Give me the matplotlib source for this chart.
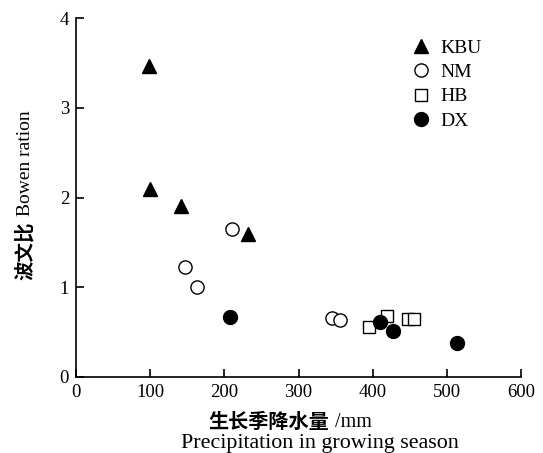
import matplotlib
matplotlib.use("Agg")
import matplotlib.pyplot as plt

# Data
kbu_x = [98, 100, 141, 232]
kbu_y = [3.47, 2.10, 1.90, 1.59]

nm_x = [210, 147, 163, 345, 356]
nm_y = [1.65, 1.22, 1.00, 0.66, 0.63]

hb_x = [395, 419, 448, 456]
hb_y = [0.56, 0.68, 0.65, 0.65]

dx_x = [208, 410, 427, 514]
dx_y = [0.67, 0.61, 0.51, 0.38]

x_ticks = [0, 100, 200, 300, 400, 500, 600]
y_ticks = [0, 1, 2, 3, 4]

plt.rcParams["font.family"] = ["Liberation Serif", "Noto Sans CJK SC"]

fig = plt.figure(figsize=(5.43, 4.53), dpi=100)
ax = fig.add_axes([0.14, 0.168, 0.8195, 0.792])

ax.plot(kbu_x, kbu_y, "^", color="black", markersize=10, linestyle="none", label="KBU")
ax.plot(nm_x, nm_y, "o", markerfacecolor="white", markeredgecolor="black",
        markeredgewidth=1.0, markersize=9.5, linestyle="none", label="NM")
ax.plot(hb_x, hb_y, "s", markerfacecolor="white", markeredgecolor="black",
        markeredgewidth=1.0, markersize=8.5, linestyle="none", label="HB")
ax.plot(dx_x, dx_y, "o", color="black", markersize=10, linestyle="none", label="DX")

ax.set_xlim(0, 600)
ax.set_ylim(0, 4)
ax.set_xticks(x_ticks)
ax.set_yticks(y_ticks)
ax.tick_params(direction="in", length=6, width=1.2, labelsize=13.5, pad=5)
ax.spines["top"].set_visible(False)
ax.spines["right"].set_visible(False)
ax.spines["left"].set_linewidth(1.2)
ax.spines["bottom"].set_linewidth(1.2)

ax.legend(loc="upper left", bbox_to_anchor=(0.7535, 0.941), frameon=False,
          handlelength=1.0, handletextpad=0.5, labelspacing=0.34,
          borderaxespad=0, borderpad=0, fontsize=14)

# x label: Chinese line (bold part + unit) and English line
t1 = ax.text(0.434, -0.128, "生长季降水量", transform=ax.transAxes,
             ha="center", va="center", fontsize=14.5, fontweight="bold")
ax.annotate(" /mm", xy=(1, 0.5), xycoords=t1, ha="left", va="center", fontsize=14.5)
ax.text(0.548, -0.185, "Precipitation in growing season", transform=ax.transAxes,
        ha="center", va="center", fontsize=15.8)

# y label: bold Chinese followed by English, rotated
t2 = fig.text(0.047, 0.447, "波文比", rotation=90,
              ha="center", va="center", fontsize=14, fontweight="bold")
ax.annotate(" Bowen ration", xy=(0.5, 1), xycoords=t2, rotation=90,
            ha="center", va="bottom", fontsize=14)

fig.savefig("out.png", dpi=100)
